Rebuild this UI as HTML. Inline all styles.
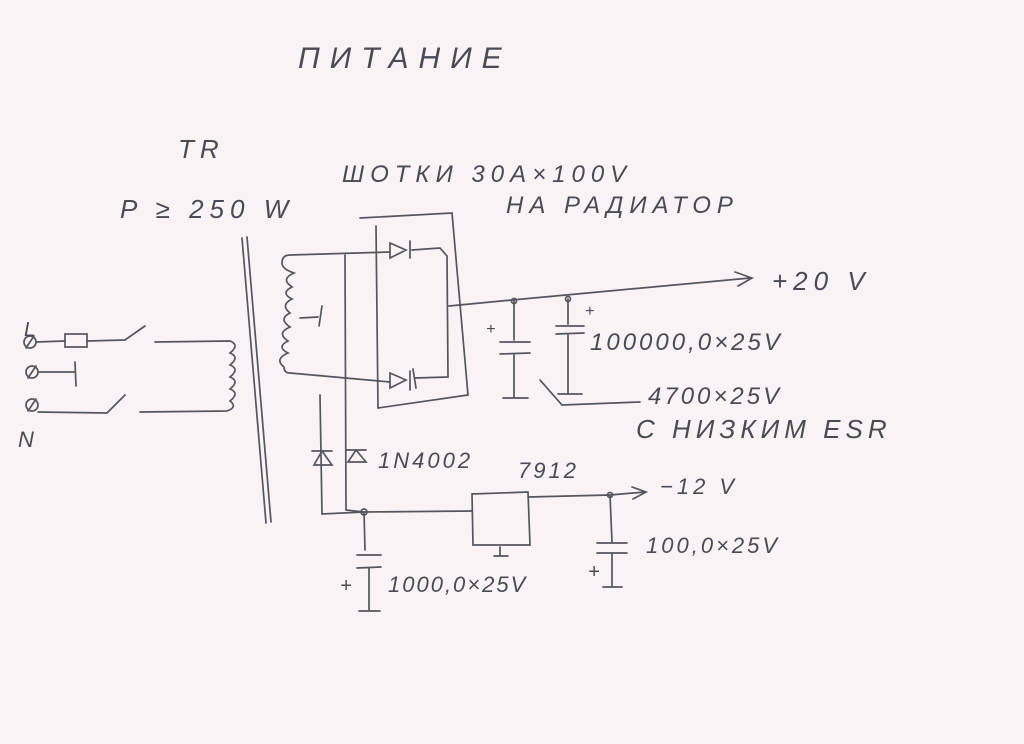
<!DOCTYPE html>
<html><head><meta charset="utf-8"><style>
html,body{margin:0;padding:0;background:#f9f3f5;}
svg{display:block}
text{font-family:"Liberation Sans","DejaVu Sans",sans-serif;fill:#4a4a55;font-style:italic;}
</style></head><body>
<svg width="1024" height="744" viewBox="0 0 1024 744" xmlns="http://www.w3.org/2000/svg">
<rect width="1024" height="744" fill="#f9f3f5"/>
<g stroke="#55555e" stroke-width="1.7" fill="none" stroke-linecap="round">
<path d="M242 238 L266 523 M247 237 L271 522"/>
<path d="M155 342 L230 341 q10 4 0 12 q10 4 0 12 q10 4 0 12 q10 4 0 12 q10 4 0 12 q8 6 -3 10 L140 412"/>
<circle cx="30" cy="342" r="6"/><circle cx="32" cy="372" r="6"/><circle cx="32" cy="405" r="6"/>
<path d="M26 348 L34 336 M28 378 L36 366 M28 411 L36 399"/>
<path d="M36 342 L65 341 M87 341 L125 340 M125 340 L145 326"/>
<rect x="65" y="334" width="22" height="13"/>
<path d="M38 372 L75 372 M75 362 L76 386"/>
<path d="M38 412 L107 413 L125 395"/>
<path d="M290 255 L390 252 M290 255 q-8 0 -8 8 q0 6 12 10 q-14 6 -2 14 q-12 6 0 12 q-12 6 -2 14 q-12 6 0 14 q-14 6 -2 14 q-12 6 0 12 q-14 6 -4 14 q0 6 6 6 L390 382"/>
<path d="M300 318 L318 317 M322 306 L319 326"/>
<path d="M345 255 L346 510 L364 512 L365 550 M320 395 L322 514 L364 512 L472 511"/>
<path d="M312 451 L332 451 M314 465 L322 451 L332 465 Z M346 450 L366 450 M348 462 L356 450 L366 462 Z"/>
<path d="M360 218 L452 213 L468 395 L378 408 L376 226"/>
<path d="M390 243 L406 250 L390 258 Z M410 241 L410 258 M412 250 L440 248 L447 256 L448 377 L415 378 M390 373 L406 380 L390 388 Z M410 371 L410 390 M413 369 L416 388"/>
<path d="M449 306 L512 300 L750 278 M735 272 L752 278 L738 286"/>
<circle cx="514" cy="301" r="2.5"/><circle cx="568" cy="299" r="2.5"/>
<path d="M514 301 L514 340 M500 342 L530 342 M500 354 L530 353 M514 354 L514 398 M503 398 L528 398"/>
<path d="M568 299 L568 324 M556 326 L584 326 M556 334 L584 333 M568 334 L568 393 M558 394 L582 394"/>
<path d="M540 380 L562 405 L640 402"/>
<path d="M472 494 L528 492 L530 545 L473 545 Z M500 547 L500 555 M494 556 L508 556"/>
<path d="M528 497 L610 495 L645 492 M632 487 L646 492 L633 499 M610 495 L612 542 M597 543 L627 543 M597 553 L627 553 M612 553 L612 586 M603 587 L622 587"/>
<circle cx="610" cy="495" r="2.5"/><circle cx="364" cy="512" r="3"/>
<path d="M357 555 L381 555 M357 568 L381 567 M369 568 L369 610 M359 611 L380 611"/>
</g>
<g font-size="26" letter-spacing="6">
<text x="298" y="68" font-size="30" letter-spacing="10" font-style="normal">ПИТАНИЕ</text>
<text x="178" y="158">TR</text>
<text x="120" y="218">P ≥ 250 W</text>
<text x="342" y="182" font-size="24">ШОТКИ 30A×100V</text>
<text x="506" y="213" font-size="24">НА РАДИАТОР</text>
<text x="772" y="290">+20 V</text>
<text x="590" y="350" font-size="24" letter-spacing="3">100000,0×25V</text>
<text x="648" y="404" font-size="24" letter-spacing="3">4700×25V</text>
<text x="636" y="438" font-size="26" letter-spacing="5">С НИЗКИМ ESR</text>
<text x="378" y="468" font-size="22" letter-spacing="3">1N4002</text>
<text x="518" y="478" font-size="22" letter-spacing="3">7912</text>
<text x="660" y="494" font-size="22" letter-spacing="4">−12 V</text>
<text x="646" y="553" font-size="22" letter-spacing="3">100,0×25V</text>
<text x="388" y="592" font-size="22" letter-spacing="2">1000,0×25V</text>
<text x="340" y="592" font-size="20">+</text>
<text x="588" y="578" font-size="20">+</text>
<text x="486" y="334" font-size="16">+</text>
<text x="585" y="316" font-size="16">+</text>
<text x="24" y="336" font-size="20" letter-spacing="0">L</text>
<text x="18" y="447" font-size="22" letter-spacing="0">N</text>
</g>
</svg>
</body></html>
